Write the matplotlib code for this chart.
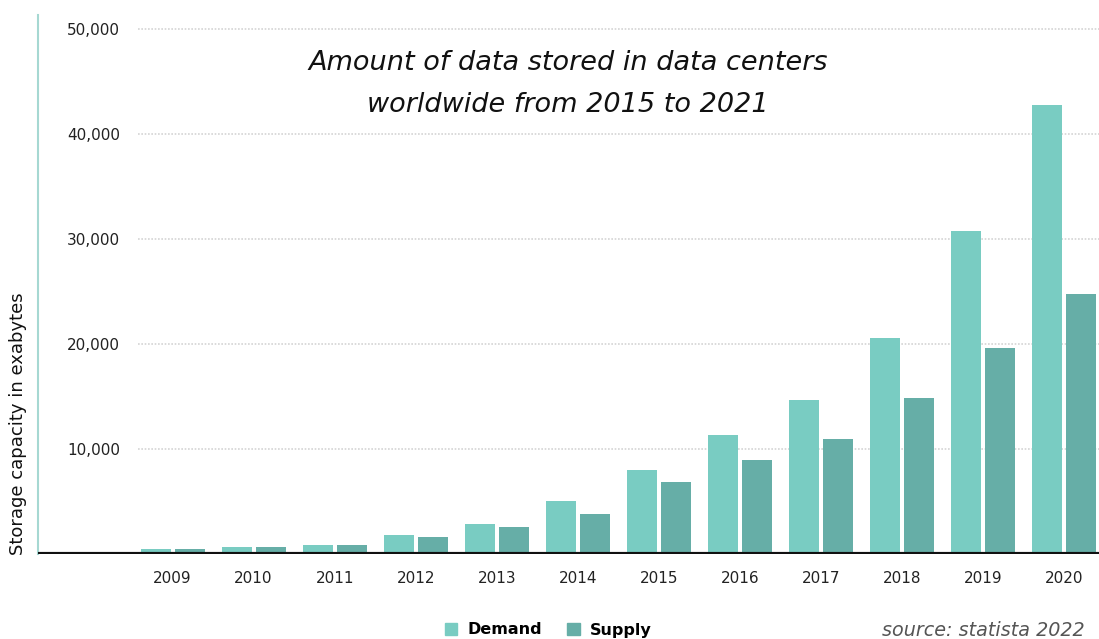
import matplotlib.pyplot as plt
import numpy as np
from matplotlib.patches import Patch

years = ["2009", "2010", "2011", "2012", "2013", "2014",
         "2015", "2016", "2017", "2018", "2019", "2020"]
demand = [480, 700, 900, 1800, 2900, 5000, 8000, 11300, 14700, 20600, 30700, 42700]
supply = [450, 700, 900, 1600, 2600, 3800, 6900, 8900, 10900, 14800, 19600, 24700]
yticks = [10000, 20000, 30000, 40000, 50000]

demand_color = "#79ccc2"
supply_color = "#66aea7"

plt.rcParams['font.family'] = ['DejaVu Sans']

W, H = 1099, 639
fig = plt.figure(figsize=(W / 100, H / 100), dpi=100)
ax = fig.add_axes([38 / W, (H - 554) / H, 1061 / W, (554 - 15) / H])

x = np.arange(len(years))
bw = 0.37
ax.bar(x - 0.21, demand, bw, color=demand_color, zorder=2)
ax.bar(x + 0.21, supply, bw, color=supply_color, zorder=2)

ax.set_xlim(-1.66, 11.43)
ax.set_ylim(0, 51300)

# dotted grid that starts to the right of the tick labels
for t in yticks:
    ax.axhline(t, xmin=100 / 1061, xmax=1, color="#d4d4d4", lw=1.2,
               ls=(0, (1, 1)), zorder=1)
ax.axhline(0, color="#111111", lw=3, zorder=3)

for s in ["top", "right", "bottom"]:
    ax.spines[s].set_visible(False)
ax.spines["left"].set_color("#a6d8d2")
ax.spines["left"].set_linewidth(1.5)

ax.set_xticks(x)
ax.set_xticklabels(years, fontsize=11, color="#222222")
ax.set_yticks(yticks)
ax.set_yticklabels([f"{t:,}" for t in yticks], fontsize=11, color="#222222")
ax.tick_params(axis="x", length=0, pad=12)
ax.tick_params(axis="y", length=0, pad=-59)

fig.text(18 / W, (H - 555) / H, "Storage capacity in exabytes", rotation=90,
         ha="center", va="bottom", fontsize=13, color="#111111")

fig.text(568 / W, (H - 84) / H,
         "Amount of data stored in data centers\nworldwide from 2015 to 2021",
         ha="center", va="center", fontsize=19.5, style="italic",
         color="#111111", linespacing=1.75)

handles = [Patch(color=demand_color, label="Demand"),
           Patch(color=supply_color, label="Supply")]
fig.legend(handles=handles, loc="center", bbox_to_anchor=(548 / W, (H - 630) / H),
           ncol=2, frameon=False, handlelength=0.8, handleheight=0.8,
           columnspacing=1.6, handletextpad=0.6,
           prop={"weight": "bold", "size": 11.5})

fig.text(1085 / W, (H - 630) / H, "source: statista 2022", ha="right",
         va="center", fontsize=13.8, style="italic", color="#555555")

fig.savefig("out.png", dpi=100)
